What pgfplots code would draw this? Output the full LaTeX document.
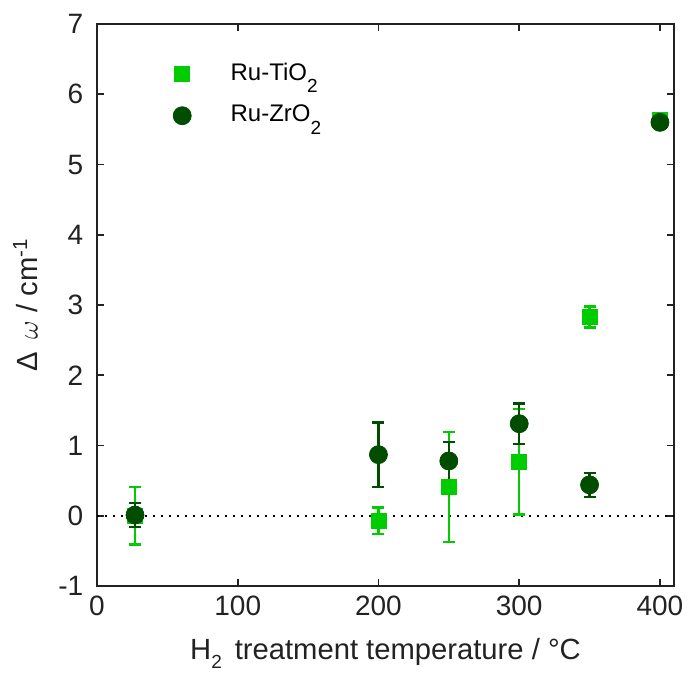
\documentclass[border=0pt]{standalone}
\usepackage{fontspec}
\setmainfont{Liberation Sans}
\usepackage{pgfplots}
\usepackage{pgfplotstable}
\pgfplotsset{compat=1.18}
\definecolor{lgreen}{RGB}{0,204,0}
\definecolor{dgreen}{RGB}{0,77,0}
\definecolor{axgray}{RGB}{34,34,34}
\pgfplotsset{legimg/.style={legend image code/.code={\draw[##1] plot coordinates {(0pt,0pt)}; \path (-5pt,0pt) (22pt,0pt);}}}
\pgfplotstableread{
x y e
27 0.00 0.41
200 -0.07 0.19
250 0.41 0.78
300 0.77 0.75
350 2.83 0.15
400 5.63 0.05
}\tio
\pgfplotstableread{
x y e
27 0.01 0.17
200 0.87 0.46
250 0.78 0.27
300 1.31 0.29
350 0.44 0.17
400 5.60 0.05
}\zro
\newcommand{\lsub}[1]{\raisebox{-6pt}{\fontsize{9.5}{10}\selectfont #1}}
\begin{document}
\fontsize{14}{17}\selectfont
\begin{tikzpicture}
\useasboundingbox (-48.5pt,-44.5pt) rectangle (295.5pt,293pt);
\begin{axis}[
 scale only axis, width=288.5pt, height=281pt,
 xmin=0, xmax=410, ymin=-1, ymax=7,
 xtick={0,100,200,300,400}, xticklabels={0,100,200,300,400},
 ytick={-1,0,1,2,3,4,5,6,7}, yticklabels={-1,0,1,2,3,4,5,6,7},
 tick align=inside, major tick length=3.5pt,
 axis line style={line width=0.9pt, color=axgray},
 every tick/.style={line width=0.9pt, axgray},
 tick label style={font=\fontsize{14}{17}\selectfont, text=axgray},
 yticklabel style={xshift=-2pt},
 xlabel={H\raisebox{-4.5pt}{\fontsize{9.5}{10}\selectfont 2}\, treatment temperature / °C},
 ylabel={Δ\, $\omega$ / cm\textsuperscript{-1}},
 label style={font=\fontsize{14.6}{17}\selectfont, text=axgray},
 xlabel style={at={(axis description cs:0.5,-0.1315)}, anchor=base, inner sep=0pt},
 ylabel style={at={(axis description cs:-0.124,0.5)}, anchor=center},
 legend style={draw=none, fill=none, at={(axis description cs:0.129,0.938)}, anchor=north west, font=\fontsize{12}{14}\selectfont, row sep=6.2pt, inner sep=0pt},
 legend cell align=left,
]
\addplot[black, line width=0.8pt, dash pattern=on 1pt off 3pt, forget plot] coordinates {(0,0) (410,0)};
\addplot[only marks, mark=square*, mark size=3.75pt, color=lgreen, mark options={fill=lgreen, draw=lgreen}, legimg,
  error bars/.cd, y dir=both, y explicit, error bar style={line width=1.2pt, lgreen},
  error mark options={rotate=90, mark size=3pt, line width=1.2pt, lgreen}]
  table[x=x, y=y, y error=e] {\tio};
\addlegendentry{Ru-TiO\lsub{2}}
\addplot[only marks, mark=*, mark size=4.5pt, color=dgreen, mark options={fill=dgreen, draw=dgreen}, legimg,
  error bars/.cd, y dir=both, y explicit, error bar style={line width=1.2pt, dgreen},
  error mark options={rotate=90, mark size=3pt, line width=1.2pt, dgreen}]
  table[x=x, y=y, y error=e] {\zro};
\addlegendentry{Ru-ZrO\lsub{2}}
\end{axis}
\end{tikzpicture}
\end{document}
